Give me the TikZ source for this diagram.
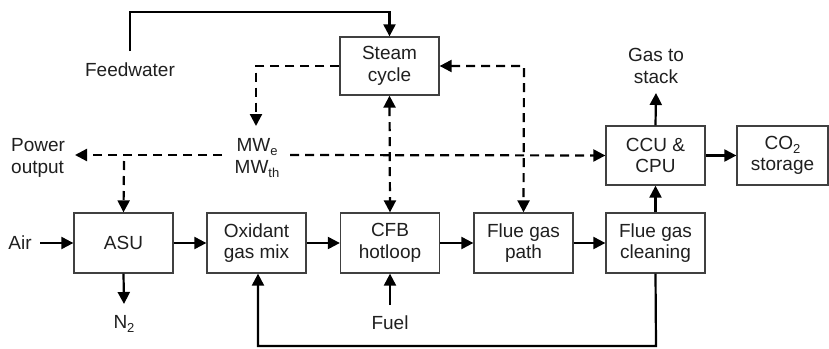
\documentclass[tikz,border=0pt]{standalone}
\usepackage{fontspec}
\setmainfont{Liberation Sans}
\usetikzlibrary{arrows.meta}
\newcommand\mysub[1]{\raisebox{-0.2em}{\fontsize{13}{13}\selectfont #1}}
\begin{document}
\begin{tikzpicture}[x=1pt,y=-1pt,
  font=\fontsize{19}{21.5}\selectfont,
  blk/.style={draw=black!75, line width=1.3pt, minimum width=99pt, minimum height=60pt, inner sep=0pt, align=center, text=black!88},
  lbl/.style={align=center, inner sep=0pt, text=black!88},
  tip/.style={Triangle[length=12pt,width=12pt]},
  flow/.style={line width=2.2pt, -{Triangle[length=12pt,width=12pt]}},
  sig/.style={line width=2.2pt, dash pattern=on 9pt off 6pt, -{Triangle[length=12pt,width=12pt]}},
  sigb/.style={line width=2.2pt, dash pattern=on 9pt off 6pt, {Triangle[length=12pt,width=12pt]}-{Triangle[length=12pt,width=12pt]}}]
\useasboundingbox (0,0) rectangle (829,348);
% blocks
\node[blk] (asu) at (123.5,243) {ASU};
\node[blk] (ox) at (256.5,243) {Oxidant\\gas mix};
\node[blk] (cfb) at (390,243) {CFB\\hotloop};
\node[blk] (fgp) at (523.5,243) {Flue gas\\path};
\node[blk] (fgc) at (655.5,243) {Flue gas\\cleaning};
\node[blk, minimum height=58pt] (steam) at (389.5,66) {Steam\\cycle};
\node[blk, minimum height=59pt] (ccu) at (655.5,155.5) {CCU \&\\CPU};
\node[blk, minimum height=59pt, minimum width=91pt] (co2) at (782.5,155.5) {CO\mysub{2}\\storage};
% labels
\node[lbl] (feed) at (130,70) {Feedwater};
\node[lbl] (mw) at (257,158) {MW\mysub{e}\\MW\mysub{th}};
\node[lbl, align=left, anchor=west] (power) at (11,158) {Power\\output};
\node[lbl] (stack) at (656,66) {Gas to\\stack};
\node[lbl] (air) at (20,243) {Air};
\node[lbl] (n2) at (124,324) {N\mysub{2}};
\node[lbl] (fuel) at (390,323) {Fuel};
% coordinates
\coordinate (fw0) at (130,51);
\coordinate (fw1) at (130,12);
\coordinate (fw2) at (389.5,12);
\coordinate (mwt) at (256,66);
\coordinate (mwa) at (256,126);
\coordinate (pl) at (222,155);
\coordinate (pa) at (75,155);
\coordinate (pr) at (290,155);
\coordinate (asud) at (124,161);
\coordinate (fgpc) at (524,66);
\coordinate (airs) at (40,243);
\coordinate (n2e) at (124,304);
\coordinate (fuels) at (390,305);
\coordinate (stk) at (656,93);
\coordinate (rc1) at (656,346);
\coordinate (rc2) at (258,346);
% solid flows
\draw[flow] (fw0) -- (fw1) -- (fw2) -- (steam.north);
\draw[flow] (airs) -- (asu.west);
\draw[flow] (asu) -- (ox);
\draw[flow] (ox) -- (cfb);
\draw[flow] (cfb) -- (fgp);
\draw[flow] (fgp) -- (fgc);
\draw[flow] (fgc) -- (ccu);
\draw[flow] (ccu) -- (co2);
\draw[flow] (ccu.north) -- (stk);
\draw[flow] (asu.south) -- (n2e);
\draw[flow] (fuels) -- (cfb.south);
\draw[flow] (fgc.south) -- (rc1) -- (rc2) -- (rc2 |- ox.south);
% dashed signals
\draw[sig] (steam.west) -- (mwt) -- (mwa);
\draw[sig] (pl) -- (pa);
\draw[sig] (pr) -- (ccu.west);
\draw[sig] (asud) -- (asu.north);
\draw[sigb] (steam.south) -- (cfb.north);
\draw[sigb] (steam.east) -- (fgpc) -- (fgp.north);
\end{tikzpicture}
\end{document}
